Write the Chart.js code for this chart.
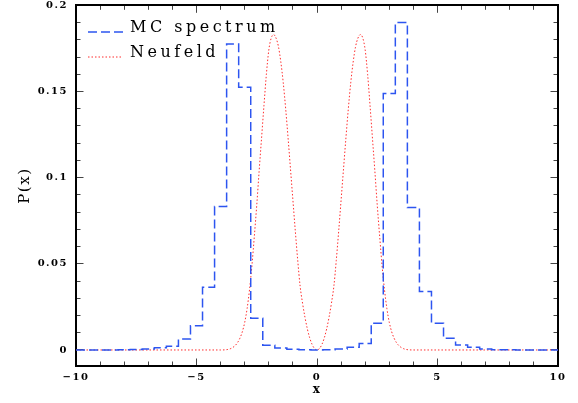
<!DOCTYPE html>
<html>
<head>
<meta charset="utf-8">
<script src="https://cdn.jsdelivr.net/npm/chart.js@4/dist/chart.umd.min.js"></script>
<style>
html,body{margin:0;padding:0;background:#fff;}
#wrap{width:578px;height:403px;}
</style>
</head>
<body>
<div id="wrap"><canvas id="c" width="578" height="403"></canvas></div>
<script>
// ---- data ----
const seriesNames = ['MC spectrum', 'Neufeld'];

// histogram bin centres (bin width 0.5) and MC values
const mcX = [-10,-9.5,-9,-8.5,-8,-7.5,-7,-6.5,-6,-5.5,-5,-4.5,-4,-3.5,-3,-2.5,-2,-1.5,-1,-0.5,
             0,0.5,1,1.5,2,2.5,3,3.5,4,4.5,5,5.5,6,6.5,7,7.5,8,8.5,9,9.5,10];
const mcY = [0,0,0,0,0.0001,0.0003,0.0005,0.0013,0.0022,0.0063,0.0140,0.0364,0.0832,0.1776,0.1525,0.0184,0.0028,0.0012,0.0004,0.0001,
             0,0.0002,0.0005,0.0016,0.0037,0.0155,0.1488,0.1900,0.0826,0.0339,0.0155,0.0068,0.0029,0.0016,0.0005,0.0002,0.0001,0,0,0,0];

// Neufeld curve
const nfX = [-10,-6,-4,-3.8,-3.7,-3.6,-3.5,-3.4,-3.3,-3.2,-3.1,-3.0,-2.9,-2.8,-2.7,-2.6,-2.5,-2.4,-2.3,-2.2,-2.1,-2.0,
             -1.9,-1.8,-1.7,-1.6,-1.5,-1.4,-1.3,-1.2,-1.1,-1.0,-0.9,-0.8,-0.7,-0.6,-0.5,-0.4,-0.3,-0.2,-0.1,
             0,0.1,0.2,0.3,0.4,0.5,0.6,0.7,0.8,0.9,1.0,1.1,1.2,1.3,1.4,1.5,1.6,1.7,1.8,1.9,
             2.0,2.1,2.2,2.3,2.4,2.5,2.6,2.7,2.8,2.9,3.0,3.1,3.2,3.3,3.4,3.5,3.6,3.7,3.8,4,6,10];
const nfY = [0,0,0,0.0001,0.0003,0.0007,0.0014,0.0025,0.0042,0.0068,0.0105,0.016,0.024,0.035,0.049,0.066,0.084,0.104,0.123,0.142,0.160,0.174,
             0.181,0.183,0.181,0.176,0.167,0.155,0.140,0.123,0.105,0.087,0.069,0.052,0.037,0.0272,0.019,0.0122,0.0069,0.0031,0.0008,
             0,0.0008,0.0031,0.0069,0.0122,0.019,0.0272,0.037,0.052,0.069,0.087,0.105,0.123,0.140,0.155,0.167,0.176,0.181,0.183,0.181,
             0.174,0.160,0.142,0.123,0.104,0.084,0.066,0.049,0.035,0.024,0.016,0.0105,0.0068,0.0042,0.0025,0.0014,0.0007,0.0003,0.0001,0,0,0];

// axis ranges / ticks
const xRange = [-10, 10];
const xMajorStep = 5, xMinorStep = 1;
const yRange = [-0.0093, 0.2];
const yMajorStep = 0.05, yMinorStep = 0.01;
const xTitle = 'x', yTitle = 'P(x)';

// ---- chart ----
const tickFont = {family: '"DejaVu Serif"', size: 10, weight: 'bold'};
const tickCol = '#444';
const MAJ = -7.5, MIN = -4.5;

function fmtX(v){ return v < 0 ? '\u2212' + Math.abs(v) : String(v); }
function fmtY(v){ return String(+v.toFixed(3)); }

function fix(size, prop){
  return function(s){
    s[prop] = size;
    s.paddingTop = 0; s.paddingBottom = 0; s.paddingLeft = 0; s.paddingRight = 0;
  };
}

function axis(pos, range, step, len, extra){
  const horiz = (pos === 'top' || pos === 'bottom');
  return Object.assign({
    type: 'linear', position: pos, min: range[0], max: range[1],
    display: true,
    weight: 0,
    ticks: {display: false, stepSize: step, autoSkip: false, includeBounds: false},
    grid: {display: true, drawOnChartArea: false, drawTicks: true, tickLength: len, color: tickCol, tickColor: tickCol, lineWidth: 1},
    border: {display: false},
    afterFit: fix(0, horiz ? 'height' : 'width')
  }, extra || {});
}

const scales = {
  x: axis('bottom', xRange, xMajorStep, MAJ, {
    weight: 10,
    ticks: {display: true, stepSize: xMajorStep, autoSkip: false, includeBounds: false, maxRotation: 0,
            font: tickFont, color: '#000', padding: 12.5, callback: fmtX},
    border: {display: true, color: '#000', width: 2},
    title: {display: true, text: xTitle, font: {family: '"DejaVu Serif"', size: 12, weight: 'bold'}, color: '#000', padding: {top: 0, bottom: 6}},
    afterFit: fix(37, 'height')
  }),
  xMin: axis('bottom', xRange, xMinorStep, MIN),
  xTop: axis('top', xRange, xMajorStep, MAJ, {border: {display: true, color: '#000', width: 2}}),
  xTopMin: axis('top', xRange, xMinorStep, MIN),
  y: axis('left', yRange, yMajorStep, MAJ, {
    weight: 10,
    ticks: {display: true, stepSize: yMajorStep, autoSkip: false, includeBounds: false,
            font: tickFont, color: '#000', padding: 15.5, callback: fmtY},
    border: {display: true, color: '#000', width: 2},
    title: {display: true, text: yTitle, font: {family: '"DejaVu Serif"', size: 15}, color: '#000', padding: {top: 16, bottom: 0}},
    afterFit: fix(76, 'width')
  }),
  yMin: axis('left', yRange, yMinorStep, MIN),
  yRight: axis('right', yRange, yMajorStep, MAJ, {border: {display: true, color: '#000', width: 2}}),
  yRightMin: axis('right', yRange, yMinorStep, MIN)
};

const spacingPlugin = {
  id: 'spacing',
  beforeDraw(chart){ chart.ctx.letterSpacing = '1.5px'; }
};

const legendPlugin = {
  id: 'legendInside',
  afterDatasetsDraw(chart){
    const ctx = chart.ctx;
    ctx.save();
    ctx.letterSpacing = '3.5px';
    ctx.font = '16px "DejaVu Serif"';
    ctx.fillStyle = '#000';
    ctx.textBaseline = 'alphabetic';
    ctx.textAlign = 'left';
    chart.data.datasets.forEach((ds, i) => {
      const y = 32 + i * 25;
      ctx.strokeStyle = ds.borderColor;
      ctx.lineWidth = ds.borderWidth;
      ctx.setLineDash(ds.borderDash || []);
      ctx.beginPath(); ctx.moveTo(88, y); ctx.lineTo(123, y); ctx.stroke();
      ctx.setLineDash([]);
      ctx.fillText(ds.label, 130, y);
    });
    ctx.restore();
  }
};

new Chart(document.getElementById('c'), {
  type: 'line',
  data: {
    datasets: [
      {
        label: seriesNames[0],
        data: mcX.map((x, i) => ({x: x, y: mcY[i]})),
        stepped: 'middle',
        borderColor: 'rgb(45,85,240)',
        borderWidth: 1.5,
        borderDash: [9, 4],
        pointRadius: 0,
        fill: false,
        xAxisID: 'x', yAxisID: 'y'
      },
      {
        label: seriesNames[1],
        data: nfX.map((x, i) => ({x: x, y: nfY[i]})),
        borderColor: 'rgb(255,45,45)',
        borderWidth: 1,
        borderDash: [1.5, 2],
        cubicInterpolationMode: 'monotone',
        pointRadius: 0,
        fill: false,
        xAxisID: 'x', yAxisID: 'y'
      }
    ]
  },
  options: {
    responsive: false,
    devicePixelRatio: 1,
    animation: false,
    layout: {padding: {top: 5.3, right: 20, left: 0, bottom: 0}},
    plugins: {legend: {display: false}, tooltip: {enabled: false}},
    scales: scales
  },
  plugins: [spacingPlugin, legendPlugin]
});
</script>
</body>
</html>
